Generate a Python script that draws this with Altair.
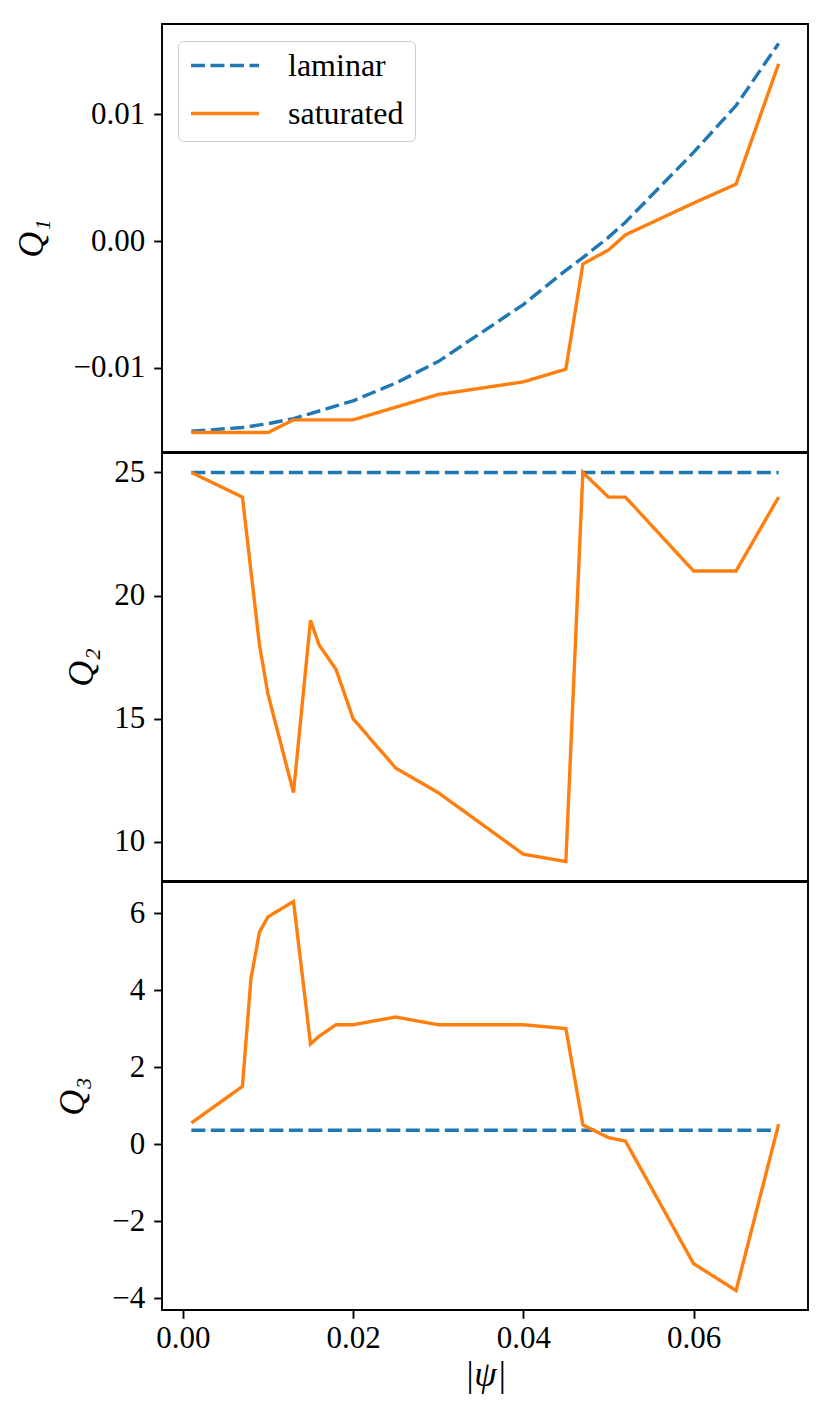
import altair as alt
import pandas as pd

# ---- data ----
psi = [0.001, 0.007, 0.008, 0.009, 0.010, 0.013, 0.015, 0.016, 0.018, 0.020,
       0.025, 0.030, 0.040, 0.045, 0.047, 0.050, 0.052, 0.060, 0.065, 0.070]

q1_laminar = [-0.0150, -0.0147, -0.0146, -0.0145, -0.0144, -0.0140, -0.0136, -0.0134, -0.0130, -0.0126,
              -0.0112, -0.0095, -0.0050, -0.0023, -0.0013, 0.0003, 0.0015, 0.0070, 0.0107, 0.0156]
q1_saturated = [-0.0151, -0.0151, -0.0151, -0.0151, -0.0151, -0.0141, -0.0141, -0.0141, -0.0141, -0.0141,
                -0.0131, -0.0121, -0.0111, -0.0101, -0.0018, -0.0007, 0.0005, 0.0030, 0.0045, 0.0140]

q2_laminar = [25, 25, 25, 25, 25, 25, 25, 25, 25, 25,
              25, 25, 25, 25, 25, 25, 25, 25, 25, 25]
q2_saturated = [25, 24, 21, 18, 16, 12, 19, 18, 17, 15,
                13, 12, 9.5, 9.2, 25, 24, 24, 21, 21, 24]

q3_laminar = [0.36, 0.36, 0.36, 0.36, 0.36, 0.36, 0.36, 0.36, 0.36, 0.36,
              0.36, 0.36, 0.36, 0.36, 0.36, 0.36, 0.36, 0.36, 0.36, 0.36]
q3_saturated = [0.55, 1.5, 4.3, 5.5, 5.9, 6.3, 2.6, 2.8, 3.1, 3.1,
                3.3, 3.1, 3.1, 3.0, 0.5, 0.17, 0.08, -3.1, -3.8, 0.52]

series_names = ["laminar", "saturated"]
series_colors = ["#1f77b4", "#ff7f0e"]

x_ticks = [0.0, 0.02, 0.04, 0.06]
q1_ticks = [-0.01, 0.0, 0.01]
q2_ticks = [10, 15, 20, 25]
q3_ticks = [-4, -2, 0, 2, 4, 6]

FONT = "Liberation Serif"
W, H = 646, 428
LW = 3.4


def margin_domain(vals):
    lo, hi = min(vals), max(vals)
    m = 0.05 * (hi - lo)
    return [lo - m, hi + m]


x_domain = margin_domain(psi)


def panel(lam, sat, title, ticks, fmt, title_x, show_x=False, show_legend=False):
    n = len(psi)
    df = pd.DataFrame({
        "psi": psi + psi,
        "value": lam + sat,
        "series": [series_names[0]] * n + [series_names[1]] * n,
    })
    if show_x:
        x_axis = alt.Axis(values=x_ticks, format=".2f", title="|ψ|",
                          titleFont=FONT, titleFontSize=36, titleFontStyle="italic",
                          titleFontWeight="normal", titleColor="black", titlePadding=4,
                          labelPadding=5)
    else:
        x_axis = None
    if show_legend:
        leg = alt.Legend(title=None, orient="none", legendX=16, legendY=17,
                         symbolType="stroke", symbolSize=4624, symbolStrokeWidth=LW,
                         labelFont=FONT, labelFontSize=32, labelColor="black",
                         labelOffset=27, padding=11, rowPadding=15, clipHeight=27,
                         strokeColor="#cccccc", fillColor="rgba(255,255,255,0.8)",
                         cornerRadius=5)
    else:
        leg = None
    return alt.Chart(df).mark_line(strokeWidth=LW).encode(
        x=alt.X("psi:Q", scale=alt.Scale(domain=x_domain, nice=False, zero=False), axis=x_axis),
        y=alt.Y("value:Q",
                scale=alt.Scale(domain=margin_domain(lam + sat), nice=False, zero=False),
                axis=alt.Axis(values=ticks, format=fmt, title=title,
                              titleFont=FONT, titleFontSize=36, titleFontStyle="italic",
                              titleFontWeight="normal", titleColor="black",
                              titleX=title_x, titleY=H / 2, titleAngle=-90,
                              titleBaseline="middle", titleAlign="center",
                              labelPadding=9)),
        color=alt.Color("series:N", scale=alt.Scale(domain=series_names, range=series_colors),
                        legend=leg),
        strokeDash=alt.StrokeDash("series:N",
                                  scale=alt.Scale(domain=series_names, range=[[14, 5.5], [1, 0]]),
                                  legend=leg),
    ).properties(width=W, height=H)


p1 = panel(q1_laminar, q1_saturated, "Q₁", q1_ticks, ".2f", -131, show_legend=True)
p2 = panel(q2_laminar, q2_saturated, "Q₂", q2_ticks, "d", -81)
p3 = panel(q3_laminar, q3_saturated, "Q₃", q3_ticks, "d", -90, show_x=True)

chart = alt.vconcat(p1, p2, p3, spacing=-2).resolve_scale(
    y="independent", color="shared", strokeDash="shared"
).properties(
    padding={"left": 4, "top": 15, "right": 5, "bottom": 5},
    background="white",
).configure_view(
    stroke="black", strokeWidth=1.9
).configure_axis(
    grid=False, domain=False, ticks=True, tickColor="black", tickWidth=1.9, tickSize=8.3,
    labelFont=FONT, labelFontSize=31, labelColor="black",
)

chart.save("out.html", embed_options={"renderer": "svg", "actions": False})
